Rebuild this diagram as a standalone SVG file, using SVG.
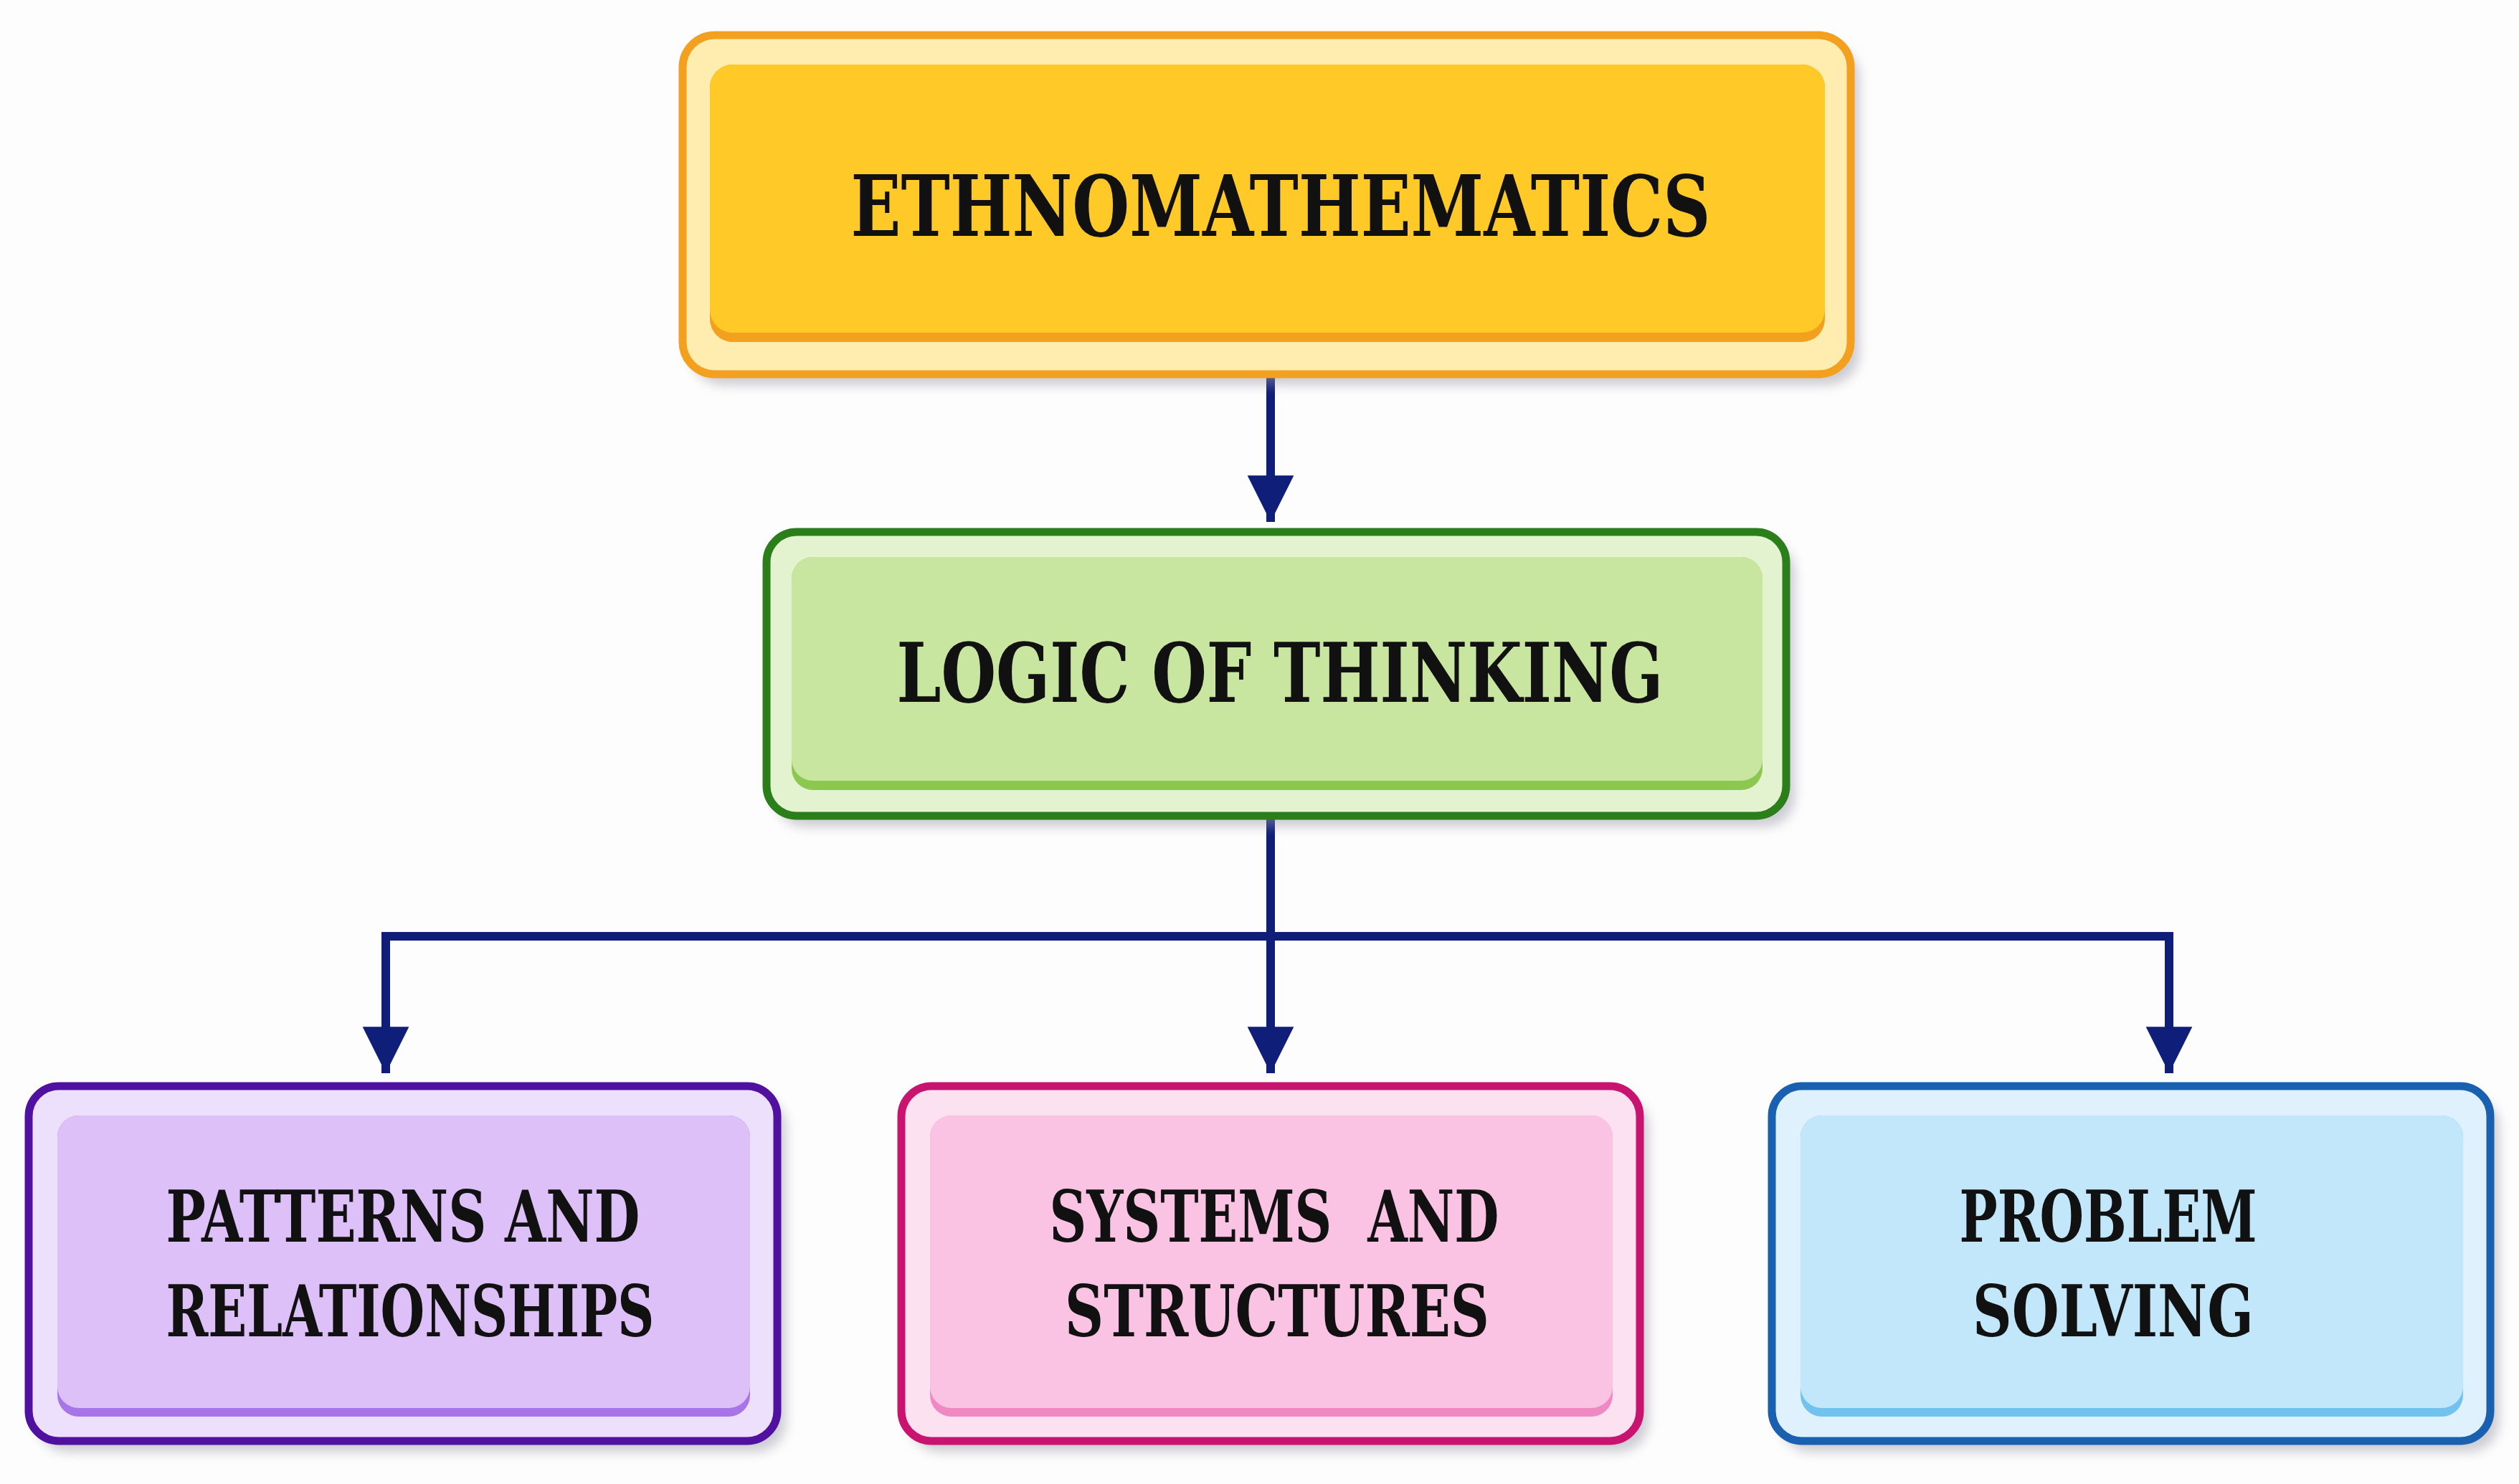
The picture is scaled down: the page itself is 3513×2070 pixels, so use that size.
<svg xmlns="http://www.w3.org/2000/svg" width="3513" height="2070" viewBox="0 0 3513 2070">
<defs>
<filter id="sh" x="-5%" y="-10%" width="110%" height="130%"><feGaussianBlur stdDeviation="8"/></filter>
<marker id="ah" viewBox="0 0 10 10" refX="10" refY="5" markerWidth="5.4" markerHeight="5.4" markerUnits="strokeWidth" orient="auto"><path d="M0,0 L10,5 L0,10 Z" fill="#0F1E78"/></marker>
<style>
.lbl{font-family:"DejaVu Serif Condensed","DejaVu Serif","Liberation Serif",serif;font-weight:bold;fill:#111;text-anchor:middle}
.shadow{fill:#9a9aa8;opacity:0.5}
.conn{fill:none;stroke:#0F1E78;stroke-width:12}
</style>
</defs>
<rect width="3513" height="2070" fill="#FDFDFD"/>

<g id="connectors">
<line class="conn" x1="1772" y1="522" x2="1772" y2="728" marker-end="url(#ah)"/>
<line class="conn" x1="1772" y1="1138" x2="1772" y2="1497" marker-end="url(#ah)"/>
<path class="conn" d="M538,1497 L538,1306 L3025,1306 L3025,1497" marker-end="url(#ah)"/>
<path class="conn" d="M538,1306 L538,1497" marker-end="url(#ah)"/>
</g>

<g id="ethnomathematics">
<rect class="shadow" x="964" y="64" width="1629" height="473" rx="45" filter="url(#sh)"/>
<rect x="952" y="49" width="1629" height="473" rx="45" fill="#FFEDB0" stroke="#F2A01E" stroke-width="11"/>
<rect x="990" y="90" width="1555" height="387" rx="32" fill="#F2A01E"/>
<rect x="990" y="90" width="1555" height="374" rx="32" fill="#FFC928"/>
<text class="lbl" x="1786" y="329" font-size="118" textLength="1199" lengthAdjust="spacingAndGlyphs">ETHNOMATHEMATICS</text>
</g>

<g id="logic">
<rect class="shadow" x="1081" y="757" width="1422" height="396" rx="42" filter="url(#sh)"/>
<rect x="1069" y="742" width="1422" height="396" rx="42" fill="#E4F3CF" stroke="#2A7F1A" stroke-width="11"/>
<rect x="1104" y="777" width="1354" height="325" rx="30" fill="#8CC850"/>
<rect x="1104" y="777" width="1354" height="312" rx="30" fill="#C9E6A1"/>
<text class="lbl" x="1785" y="979" font-size="114" textLength="1069" lengthAdjust="spacingAndGlyphs">LOGIC OF THINKING</text>
</g>

<g id="patterns">
<rect class="shadow" x="52" y="1530" width="1044" height="495" rx="42" filter="url(#sh)"/>
<rect x="40" y="1515" width="1044" height="495" rx="42" fill="#EDE0FC" stroke="#5010A0" stroke-width="11"/>
<rect x="80" y="1556" width="966" height="420" rx="30" fill="#A875E8"/>
<rect x="80" y="1556" width="966" height="408" rx="30" fill="#DDC0F8"/>
<text class="lbl" x="562" y="1732" font-size="99" textLength="661" lengthAdjust="spacingAndGlyphs">PATTERNS AND</text>
<text class="lbl" x="572" y="1864" font-size="99" textLength="681" lengthAdjust="spacingAndGlyphs">RELATIONSHIPS</text>
</g>

<g id="systems">
<rect class="shadow" x="1269" y="1530" width="1030" height="495" rx="42" filter="url(#sh)"/>
<rect x="1257" y="1515" width="1030" height="495" rx="42" fill="#FCE2F1" stroke="#C8146E" stroke-width="11"/>
<rect x="1297" y="1556" width="952" height="420" rx="30" fill="#F088C4"/>
<rect x="1297" y="1556" width="952" height="408" rx="30" fill="#FBC3E3"/>
<text class="lbl" x="1777" y="1732" font-size="99" textLength="627" lengthAdjust="spacingAndGlyphs" xml:space="preserve">SYSTEMS  AND</text>
<text class="lbl" x="1781" y="1864" font-size="99" textLength="592" lengthAdjust="spacingAndGlyphs">STRUCTURES</text>
</g>

<g id="problem">
<rect class="shadow" x="2483" y="1530" width="1002" height="495" rx="42" filter="url(#sh)"/>
<rect x="2471" y="1515" width="1002" height="495" rx="42" fill="#DEF1FC" stroke="#1A60B0" stroke-width="11"/>
<rect x="2511" y="1556" width="924" height="420" rx="30" fill="#72C2F0"/>
<rect x="2511" y="1556" width="924" height="408" rx="30" fill="#C2E7FA"/>
<text class="lbl" x="2940" y="1732" font-size="99" textLength="415" lengthAdjust="spacingAndGlyphs">PROBLEM</text>
<text class="lbl" x="2947" y="1864" font-size="99" textLength="392" lengthAdjust="spacingAndGlyphs">SOLVING</text>
</g>
</svg>
